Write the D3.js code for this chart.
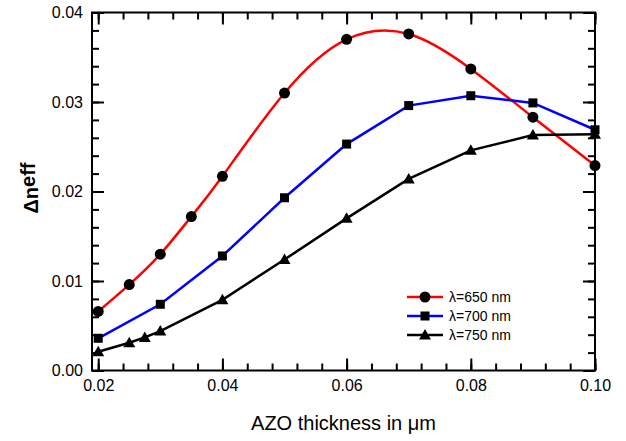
<!DOCTYPE html>
<html>
<head>
<meta charset="utf-8">
<script src="https://cdn.jsdelivr.net/npm/d3@7"></script>
<style>
  body { margin: 0; background: #fff; }
  svg { font-family: "Liberation Sans", Arial, sans-serif; }
</style>
</head>
<body>
<div id="chart"></div>
<script>
let svgWidth = 626;
let svgHeight = 441;

// data
let thickness650 = [0.02, 0.025, 0.03, 0.035, 0.04, 0.05, 0.06, 0.07, 0.08, 0.09, 0.10];
let dn650 = [0.0066, 0.0096, 0.0130, 0.0172, 0.0217, 0.0310, 0.0370, 0.0376, 0.0337, 0.0283, 0.0229];

let thickness700 = [0.02, 0.03, 0.04, 0.05, 0.06, 0.07, 0.08, 0.09, 0.10];
let dn700 = [0.0036, 0.0074, 0.0128, 0.0193, 0.0253, 0.0296, 0.0307, 0.0299, 0.0269];

let thickness750 = [0.02, 0.025, 0.0275, 0.03, 0.04, 0.05, 0.06, 0.07, 0.08, 0.09, 0.10];
let dn750 = [0.0021, 0.0031, 0.0037, 0.0044, 0.0079, 0.0124, 0.0170, 0.0214, 0.0246, 0.0263, 0.0264];

let xTicks = [0.02, 0.04, 0.06, 0.08, 0.10];
let yTicks = [0.00, 0.01, 0.02, 0.03, 0.04];

let series = [
  { label: "\u03bb=650 nm", xs: thickness650, ys: dn650, color: "#ff0000", marker: "circle", smooth: true },
  { label: "\u03bb=700 nm", xs: thickness700, ys: dn700, color: "#0000ff", marker: "square", smooth: false },
  { label: "\u03bb=750 nm", xs: thickness750, ys: dn750, color: "#000000", marker: "triangle", smooth: false }
];

let plot = { left: 92, right: 595, top: 12.5, bottom: 370.5 };

let svg = d3.select("#chart")
  .append("svg")
  .attr("width", svgWidth)
  .attr("height", svgHeight);

let x = d3.scaleLinear().domain([0.019, 0.10]).range([plot.left, plot.right]);
let y = d3.scaleLinear().domain([0, 0.04]).range([plot.bottom, plot.top]);

let xMinor = d3.range(0.02, 0.1001, 0.004);
let yMinor = d3.range(0, 0.0401, 0.002);

function styleAxis(g) {
  g.select(".domain").remove();
  g.selectAll(".tick line").attr("stroke", "#000").attr("stroke-width", 2);
  g.selectAll(".tick text").attr("fill", "#000").style("font-size", "16px");
}

// minor ticks, all four sides, pointing inward
svg.append("g").attr("transform", `translate(0,${plot.bottom})`)
  .call(d3.axisBottom(x).tickValues(xMinor).tickSize(-7).tickFormat("")).call(styleAxis);
svg.append("g").attr("transform", `translate(0,${plot.top})`)
  .call(d3.axisTop(x).tickValues(xMinor).tickSize(-7).tickFormat("")).call(styleAxis);
svg.append("g").attr("transform", `translate(${plot.left},0)`)
  .call(d3.axisLeft(y).tickValues(yMinor).tickSize(-7).tickFormat("")).call(styleAxis);
svg.append("g").attr("transform", `translate(${plot.right},0)`)
  .call(d3.axisRight(y).tickValues(yMinor).tickSize(-7).tickFormat("")).call(styleAxis);

// major ticks
svg.append("g").attr("transform", `translate(0,${plot.bottom})`)
  .call(d3.axisBottom(x).tickValues(xTicks).tickSize(-12).tickPadding(9).tickFormat(d3.format(".2f"))).call(styleAxis);
svg.append("g").attr("transform", `translate(0,${plot.top})`)
  .call(d3.axisTop(x).tickValues(xTicks).tickSize(-12).tickFormat("")).call(styleAxis);
svg.append("g").attr("transform", `translate(${plot.left},0)`)
  .call(d3.axisLeft(y).tickValues(yTicks).tickSize(-12).tickPadding(9).tickFormat(d3.format(".2f"))).call(styleAxis);
svg.append("g").attr("transform", `translate(${plot.right},0)`)
  .call(d3.axisRight(y).tickValues(yTicks).tickSize(-12).tickFormat("")).call(styleAxis);

// frame
svg.append("rect")
  .attr("x", plot.left).attr("y", plot.top)
  .attr("width", plot.right - plot.left).attr("height", plot.bottom - plot.top)
  .attr("fill", "none").attr("stroke", "#000").attr("stroke-width", 2);

function drawMarker(g, type, cx, cy) {
  if (type === "circle") {
    g.append("circle").attr("cx", cx).attr("cy", cy).attr("r", 5.5).attr("fill", "#000");
  } else if (type === "square") {
    g.append("rect").attr("x", cx - 4.5).attr("y", cy - 4.5).attr("width", 9).attr("height", 9).attr("fill", "#000");
  } else {
    g.append("path").attr("d", `M${cx},${cy - 6}L${cx + 6},${cy + 4.5}L${cx - 6},${cy + 4.5}Z`).attr("fill", "#000");
  }
}

series.forEach(s => {
  let pts = s.xs.map((v, i) => [v, s.ys[i]]);
  let line = d3.line()
    .x(d => x(d[0]))
    .y(d => y(d[1]))
    .curve(s.smooth ? d3.curveNatural : d3.curveLinear);
  svg.append("path")
    .datum(pts)
    .attr("d", line)
    .attr("fill", "none")
    .attr("stroke", s.color)
    .attr("stroke-width", 2.5);
  let mg = svg.append("g");
  pts.forEach(p => drawMarker(mg, s.marker, x(p[0]), y(p[1])));
});

// legend
let legend = svg.append("g");
series.forEach((s, i) => {
  let ly = 297 + i * 19;
  legend.append("line").attr("x1", 407).attr("x2", 443).attr("y1", ly).attr("y2", ly)
    .attr("stroke", s.color).attr("stroke-width", 2.5);
  drawMarker(legend, s.marker, 425, ly);
  legend.append("text").attr("x", 449).attr("y", ly + 5)
    .style("font-size", "14px").text(s.label);
});

// axis titles
svg.append("text")
  .attr("x", (plot.left + plot.right) / 2)
  .attr("y", 430)
  .attr("text-anchor", "middle")
  .style("font-size", "20px")
  .text("AZO thickness in \u03bcm");

let yTitle = svg.append("text")
  .attr("transform", "translate(38,188) rotate(-90)")
  .attr("text-anchor", "middle")
  .style("font-size", "20px")
  .style("font-weight", "bold");
yTitle.append("tspan").text("\u0394n");
yTitle.append("tspan").attr("dy", -3).text("eff");
</script>
</body>
</html>
